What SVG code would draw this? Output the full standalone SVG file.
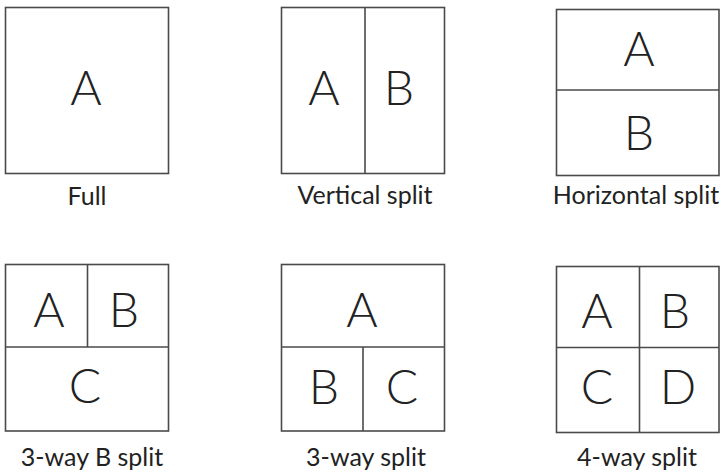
<svg xmlns="http://www.w3.org/2000/svg" width="721" height="473" viewBox="0 0 721 473">
<style>
.box{fill:#fff;stroke:#4a4a4a;stroke-width:1.6}
.div{stroke:#4a4a4a;stroke-width:1.6;fill:none}
.big{font-family:Lato,"Liberation Sans",sans-serif;font-weight:300;font-size:48px;fill:#222;text-anchor:middle}
.lbl{font-family:Lato,"Liberation Sans",sans-serif;font-weight:400;font-size:25px;fill:#222;text-anchor:middle}
</style>
<rect width="721" height="473" fill="#fff"/>
<g id="full">
<rect class="box" x="5.5" y="7.5" width="163" height="166"/>
<text class="big" x="86" y="105">A</text>
<text class="lbl" x="87" y="205">Full</text>
</g>
<g id="vertical">
<rect class="box" x="281.5" y="7.5" width="163" height="166"/>
<line class="div" x1="365" y1="7.5" x2="365" y2="173.5"/>
<text class="big" x="324" y="105">A</text>
<text class="big" x="399" y="105">B</text>
<text class="lbl" x="365" y="204">Vertical split</text>
</g>
<g id="horizontal">
<rect class="box" x="556.5" y="9.5" width="162.5" height="166"/>
<line class="div" x1="556.5" y1="90" x2="719" y2="90"/>
<text class="big" x="639" y="66">A</text>
<text class="big" x="639" y="150">B</text>
<text class="lbl" x="636" y="204">Horizontal split</text>
</g>
<g id="threeB">
<rect class="box" x="5.5" y="264.5" width="163" height="166.5"/>
<line class="div" x1="87.5" y1="264.5" x2="87.5" y2="347"/>
<line class="div" x1="5.5" y1="347" x2="168.5" y2="347"/>
<text class="big" x="49" y="327">A</text>
<text class="big" x="124" y="327">B</text>
<text class="big" x="85" y="403">C</text>
<text class="lbl" x="92" y="466">3-way B split</text>
</g>
<g id="three">
<rect class="box" x="281.5" y="264.5" width="163" height="166.5"/>
<line class="div" x1="281.5" y1="347" x2="444.5" y2="347"/>
<line class="div" x1="363" y1="347" x2="363" y2="431"/>
<text class="big" x="362" y="327">A</text>
<text class="big" x="324" y="404">B</text>
<text class="big" x="402" y="404">C</text>
<text class="lbl" x="366" y="466">3-way split</text>
</g>
<g id="four">
<rect class="box" x="556.5" y="266.5" width="162.5" height="166"/>
<line class="div" x1="639.5" y1="266.5" x2="639.5" y2="432.5"/>
<line class="div" x1="556.5" y1="347.5" x2="719" y2="347.5"/>
<text class="big" x="597" y="328">A</text>
<text class="big" x="675" y="328">B</text>
<text class="big" x="597" y="404">C</text>
<text class="big" x="678" y="404">D</text>
<text class="lbl" x="637" y="466">4-way split</text>
</g>
</svg>
